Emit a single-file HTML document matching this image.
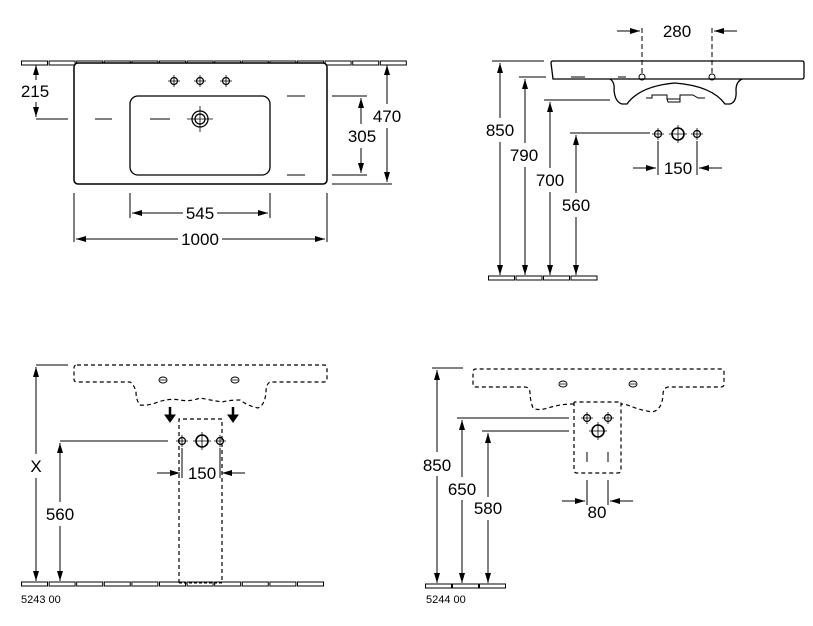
<!DOCTYPE html>
<html><head><meta charset="utf-8"><style>
html,body{margin:0;padding:0;background:#fff;}
svg{display:block;}
text{font-family:"Liberation Sans",Arial,sans-serif;fill:#000;}
</style></head><body>
<svg width="813" height="626" viewBox="0 0 813 626" xmlns="http://www.w3.org/2000/svg">
<defs>
<marker id="a" viewBox="0 0 10 6" refX="10" refY="3" markerWidth="10" markerHeight="6" orient="auto" markerUnits="userSpaceOnUse"><path d="M0,0 L10,3 L0,6z" fill="#000"/></marker>
<rect id="t" width="26" height="4" fill="#fff" stroke="#000" stroke-width="1"/>
<g id="hs"><circle r="3.5" fill="none" stroke="#000" stroke-width="1.2"/><path d="M-6,0H6M0,-6V6" stroke="#000" stroke-width="0.8"/></g>
<g id="hb"><circle r="6" fill="none" stroke="#000" stroke-width="1.6"/><path d="M-9,0H9M0,-9V9" stroke="#000" stroke-width="0.8"/></g>
</defs>
<!-- tiles -->
<g>
<use href="#t" x="21.5" y="61"/><use href="#t" x="49.1" y="61"/><use href="#t" x="76.7" y="61"/><use href="#t" x="104.3" y="61"/><use href="#t" x="131.9" y="61"/><use href="#t" x="159.5" y="61"/><use href="#t" x="187.1" y="61"/><use href="#t" x="214.7" y="61"/><use href="#t" x="242.3" y="61"/><use href="#t" x="269.9" y="61"/><use href="#t" x="297.5" y="61"/><use href="#t" x="325.1" y="61"/><use href="#t" x="352.7" y="61"/><use href="#t" x="380.3" y="61"/>
<use href="#t" x="488.5" y="276"/><use href="#t" x="516" y="276"/><use href="#t" x="543.5" y="276"/><use href="#t" x="571" y="276"/>
<use href="#t" x="21.5" y="582"/><use href="#t" x="49.1" y="582"/><use href="#t" x="76.7" y="582"/><use href="#t" x="104.3" y="582"/><use href="#t" x="131.9" y="582"/><use href="#t" x="159.5" y="582"/><use href="#t" x="187.1" y="582"/><use href="#t" x="214.7" y="582"/><use href="#t" x="242.3" y="582"/><use href="#t" x="269.9" y="582"/><use href="#t" x="297.5" y="582"/>
<use href="#t" x="425.5" y="584"/><use href="#t" x="452.5" y="584"/><use href="#t" x="479.5" y="584"/>
</g>
<g fill="none" stroke="#000" stroke-width="1">
<!-- TOP LEFT -->
<rect x="74" y="63" width="253" height="121" rx="4" fill="#fff" stroke-width="1.5"/>
<rect x="130" y="96" width="140" height="79" rx="8" stroke-width="1.3"/>
<use href="#hs" x="174" y="81"/><use href="#hs" x="200" y="81"/><use href="#hs" x="226" y="81"/>
<circle cx="200" cy="119" r="8" stroke-width="1.3"/><circle cx="200" cy="119" r="5" stroke-width="1.3"/>
<path d="M200,106V132M187,119H213" stroke-width="0.8"/>
<path d="M95,119H112M150,119H170M287,96H305M287,175H305M36,119H68"/>
<path d="M36,80V65" marker-end="url(#a)"/><path d="M36,102V117" marker-end="url(#a)"/>
<path d="M332,96H367M332,175H367M332,184H392"/>
<path d="M361,124V98" marker-end="url(#a)"/><path d="M361,148V173" marker-end="url(#a)"/>
<path d="M387,104V65" marker-end="url(#a)"/><path d="M387,128V182" marker-end="url(#a)"/>
<path d="M130,193V218M270,193V218M74,193V242M327,193V242"/>
<path d="M183,213H132" marker-end="url(#a)"/><path d="M217,213H268" marker-end="url(#a)"/>
<path d="M178,239H76" marker-end="url(#a)"/><path d="M222,239H325" marker-end="url(#a)"/>
<!-- TOP RIGHT -->
<path d="M553,61H802Q804,61 804,63V77Q804,79 802,79H553L551,63Q551,61 553,61Z" stroke-width="1.3"/>
<path d="M610,79Q615,82 614,90Q615,102 622,104L627,104Q640,86 675,83Q712,86 725,104L730,104Q737,102 736,90Q736,82 742,79" stroke-width="1.3"/>
<path d="M646,98L652,98 652,95 667,95 667,99 680,99 680,95 693,95 698,98 705,98M667,99L668,102L680,102L680,99"/>
<path d="M571,77H585M618,77H626"/>
<circle cx="642" cy="77" r="3"/><circle cx="712" cy="77" r="3"/>
<path d="M642,28V74M712,28V74" stroke-dasharray="5,3"/>
<path d="M617,31H640" marker-end="url(#a)"/><path d="M737,31H714" marker-end="url(#a)"/>
<path d="M492,61H544M519,77H546M544,100H610M570,133H650"/>
<path d="M500,118V63" marker-end="url(#a)"/><path d="M500,142V275" marker-end="url(#a)"/>
<path d="M525,143V79" marker-end="url(#a)"/><path d="M525,167V275" marker-end="url(#a)"/>
<path d="M550,168V102" marker-end="url(#a)"/><path d="M550,192V275" marker-end="url(#a)"/>
<path d="M576,193V135" marker-end="url(#a)"/><path d="M576,217V275" marker-end="url(#a)"/>
<use href="#hs" x="658" y="134"/><use href="#hb" x="678" y="134"/><use href="#hs" x="697" y="134"/>
<path d="M658,141V175M697,141V175"/>
<path d="M633,168H656" marker-end="url(#a)"/><path d="M722,168H699" marker-end="url(#a)"/>
<!-- BOTTOM LEFT -->
<path d="M36,365H68"/>
<path d="M77,365H324Q327,365 327,368V379Q327,382 324,382H270Q266,384 266,392Q265,405 258,408Q248,406 240,400Q230,400 222,402Q210,400 200,398Q190,402 180,400Q170,398 158,402Q148,406 140,405Q136,400 136,392Q134,384 130,382H77Q74,382 74,379V368Q74,365 77,365Z" stroke-width="1.2" stroke-dasharray="4,3"/>
<ellipse cx="163" cy="380" rx="4" ry="3"/><ellipse cx="235" cy="380" rx="4" ry="3"/>
<path d="M160,380H166M232,380H238" stroke-width="0.8"/>
<path d="M170,407V417M233,407V417" stroke-width="2.5"/>
<path d="M165,415L170,422L175,415ZM228,415L233,422L238,415Z" fill="#000"/>
<path d="M179,583V419H222V583" stroke-width="1.2" stroke-dasharray="4,3"/>
<path d="M179,583H222" stroke-dasharray="3,2"/>
<path d="M60,441H168"/>
<use href="#hs" x="182" y="441"/><use href="#hb" x="202" y="441"/><use href="#hs" x="220" y="441"/>
<path d="M182,448V478M220,448V478"/>
<path d="M157,473H180" marker-end="url(#a)"/><path d="M245,473H222" marker-end="url(#a)"/>
<path d="M36,454V367" marker-end="url(#a)"/><path d="M36,478V581" marker-end="url(#a)"/>
<path d="M60,502V443" marker-end="url(#a)"/><path d="M60,526V581" marker-end="url(#a)"/>
<!-- BOTTOM RIGHT -->
<path d="M432,368H463"/>
<path d="M574,404Q560,404 548,408Q538,411 533,408Q530,400 530,392Q529,387 525,387H476Q473,387 473,384V372Q473,369 476,369H721Q724,369 724,372V384Q724,387 721,387H668Q663,388 663,395Q662,410 652,412Q640,410 630,406Q625,404 621,404" stroke-width="1.2" stroke-dasharray="4,3"/>
<path d="M574,402V470Q574,473 577,473H618Q621,473 621,470V402H574" stroke-width="1.2" stroke-dasharray="4,3"/>
<ellipse cx="563" cy="384" rx="4" ry="3"/><ellipse cx="633" cy="384" rx="4" ry="3"/>
<path d="M560,384H566M630,384H636" stroke-width="0.8"/>
<use href="#hs" x="587" y="418"/><use href="#hs" x="608" y="418"/><use href="#hb" x="598" y="431"/>
<path d="M587,452V462M608,452V462"/>
<path d="M587,480V505M608,480V505"/>
<path d="M562,501H585" marker-end="url(#a)"/><path d="M633,501H610" marker-end="url(#a)"/>
<path d="M457,418H569M482,431H569"/>
<path d="M437,452V370" marker-end="url(#a)"/><path d="M437,476V583" marker-end="url(#a)"/>
<path d="M462,477V420" marker-end="url(#a)"/><path d="M462,500V583" marker-end="url(#a)"/>
<path d="M488,497V433" marker-end="url(#a)"/><path d="M488,520V583" marker-end="url(#a)"/>
</g>
<g font-size="17" text-anchor="middle">
<text x="35" y="97">215</text>
<text x="362" y="142">305</text>
<text x="387" y="122">470</text>
<text x="200" y="219">545</text>
<text x="200" y="245">1000</text>
<text x="677" y="37">280</text>
<text x="500" y="136">850</text>
<text x="524" y="161">790</text>
<text x="550" y="186">700</text>
<text x="576" y="211">560</text>
<text x="678" y="174">150</text>
<text x="36" y="472">X</text>
<text x="60" y="520">560</text>
<text x="202" y="479">150</text>
<text x="437" y="471">850</text>
<text x="462" y="495">650</text>
<text x="488" y="514">580</text>
<text x="597" y="518">80</text>
</g>
<g font-size="11">
<text x="21" y="603">5243 00</text>
<text x="426" y="603">5244 00</text>
</g>
</svg>
</body></html>
